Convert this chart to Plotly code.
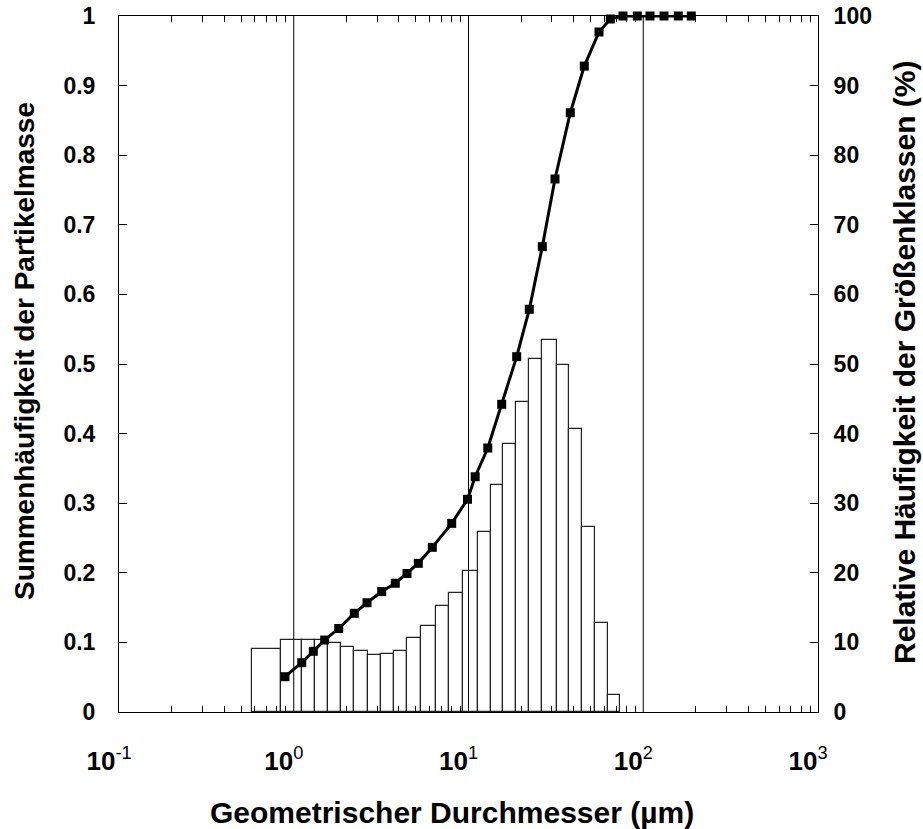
import plotly.graph_objects as go

# Histogram bins (size class edges, µm) and relative frequency (%)
bin_edges = [0.579, 0.842, 1.119, 1.323, 1.564, 1.864, 2.221, 2.671, 3.157, 3.747,
             4.429, 5.328, 6.492, 7.767, 9.339, 11.29, 13.40, 15.82, 18.77, 22.19,
             26.45, 31.97, 37.74, 44.62, 52.75, 62.60, 73.89]
rel_freq = [9.0, 10.3, 10.3, 10.3, 9.95, 9.4, 8.76, 8.2, 8.35, 8.8,
            10.6, 12.4, 15.3, 17.1, 20.2, 25.9, 32.6, 38.5, 44.6, 50.7,
            53.5, 49.9, 40.6, 26.6, 12.8, 2.4]

# Cumulative mass fraction
cum_x = [0.891, 1.111, 1.294, 1.503, 1.808, 2.221, 2.626, 3.186, 3.811, 4.447,
         5.161, 6.206, 8.016, 9.869, 10.92, 12.89, 15.49, 18.87, 22.28, 26.45,
         31.26, 38.24, 45.99, 55.82, 64.78, 76.58, 92.5, 109.3, 131.5, 158.7, 188.4]
cum_y = [0.0507, 0.0708, 0.0872, 0.1034, 0.120, 0.1418, 0.157, 0.173, 0.185, 0.199,
         0.2136, 0.2366, 0.271, 0.3056, 0.338, 0.3793, 0.4421, 0.5105, 0.5786, 0.6686,
         0.7658, 0.861, 0.928, 0.977, 0.9957, 1.0, 1.0, 1.0, 1.0, 1.0, 1.0]

x_tickvals = [0.1, 1, 10, 100, 1000]
x_ticktext = ["<b>10</b><sup>-1</sup>", "<b>10</b><sup>0</sup>", "<b>10</b><sup>1</sup>",
              "<b>10</b><sup>2</sup>", "<b>10</b><sup>3</sup>"]
grid_x = [1, 10, 100]

FONT = "Liberation Sans, Arial, sans-serif"

centers = [(a + b) / 2 for a, b in zip(bin_edges[:-1], bin_edges[1:])]
widths = [b - a for a, b in zip(bin_edges[:-1], bin_edges[1:])]

fig = go.Figure()
fig.add_trace(go.Bar(x=centers, y=rel_freq, width=widths, yaxis="y",
                     marker=dict(color="rgba(255,255,255,0)", line=dict(color="#222", width=1.2)),
                     showlegend=False))
fig.add_trace(go.Scatter(x=cum_x, y=cum_y, yaxis="y2", mode="lines+markers",
                         line=dict(color="black", width=3),
                         marker=dict(symbol="square", size=9, color="black"),
                         showlegend=False, cliponaxis=False))

for gx in grid_x:
    fig.add_shape(type="line", xref="x", yref="paper", x0=gx, x1=gx, y0=0, y1=1,
                  line=dict(color="black", width=1), layer="below")

minor_vals = [m * 10 ** e for e in range(-1, 3) for m in range(2, 10)]

fig.update_layout(
    width=923, height=829,
    margin=dict(l=119, r=105, t=16, b=117),
    paper_bgcolor="white", plot_bgcolor="white",
    bargap=0,
    font=dict(family=FONT, size=23, color="black"),
    xaxis=dict(type="log", range=[-1, 3], tickvals=x_tickvals, ticktext=x_ticktext,
               ticks="", showgrid=False, zeroline=False, automargin=False,
               showline=True, linecolor="black", linewidth=1, mirror="ticks",
               tickfont=dict(family=FONT, size=26, color="black"),
               ticklabelshift=-10, ticklabelstandoff=26, ticklabeloverflow="allow",
               minor=dict(tickvals=minor_vals, ticks="inside", ticklen=6,
                          tickcolor="black", tickwidth=1, showgrid=False)),
    yaxis=dict(range=[0, 100], side="right", dtick=10, ticks="inside", ticklen=8,
               tickcolor="black", showgrid=False, zeroline=False, automargin=False,
               showline=True, linecolor="black", linewidth=1,
               tickfont=dict(family=FONT, size=23, color="black", weight="bold"),
               ticklabelstandoff=10, ticklabeloverflow="allow"),
    yaxis2=dict(range=[0, 1], side="left", overlaying="y", dtick=0.1, ticks="inside",
                ticklen=8, tickcolor="black", showgrid=False, zeroline=False,
                automargin=False,
                showline=True, linecolor="black", linewidth=1,
                tickfont=dict(family=FONT, size=23, color="black", weight="bold"),
                ticklabelstandoff=18, ticklabeloverflow="allow"),
    annotations=[
        dict(text="Geometrischer Durchmesser (µm)", xref="paper", yref="paper",
             x=0.476, y=-0.1437, xanchor="center", yanchor="middle", showarrow=False,
             font=dict(family=FONT, size=30, color="black", weight="bold")),
        dict(text="Summenhäufigkeit der Partikelmasse", xref="paper", yref="paper",
             x=-0.1345, y=0.5187, xanchor="center", yanchor="middle", textangle=-90,
             showarrow=False, font=dict(family=FONT, size=28, color="black", weight="bold")),
        dict(text="Relative Häufigkeit der Größenklassen (%)", xref="paper", yref="paper",
             x=1.1245, y=0.9397, xanchor="center", yanchor="top", textangle=-90,
             showarrow=False, font=dict(family=FONT, size=30, color="black", weight="bold")),
    ],
)

fig.write_html("out.html", config={"displayModeBar": False},
               post_script="document.body.style.margin='0';document.body.style.padding='0';")
